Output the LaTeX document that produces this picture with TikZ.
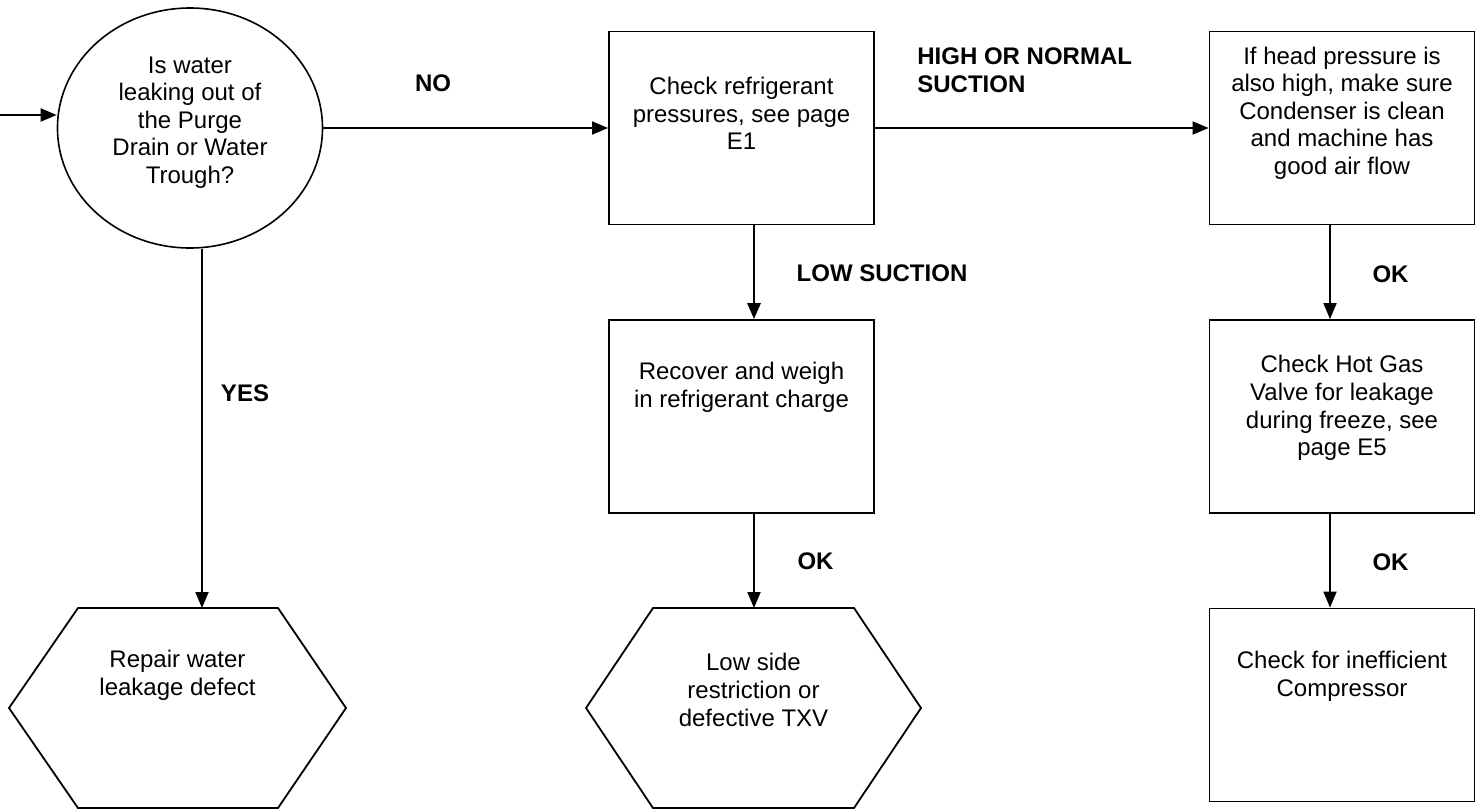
\documentclass[tikz,border=0pt]{standalone}
\usepackage{fontspec}
\setmainfont{Liberation Sans}
\usepackage{tikz}
\usetikzlibrary{arrows.meta,positioning,shapes.geometric}
\tikzset{
  flow/.style={line width=0.9pt,-{Triangle[length=8pt,width=6.5pt]}},
  flowheavy/.style={flow,line width=1.4pt},
  outline/.style={line width=0.9pt,line join=miter},
  stepbox/.style={draw,line width=0.9pt,inner sep=0pt,minimum width=132.5pt,minimum height=96.5pt},
  query/.style={ellipse,draw,line width=0.8pt,inner sep=0pt,minimum width=132.5pt,minimum height=120pt},
  body/.style={align=center,font=\fontsize{12}{13.8}\selectfont,inner sep=0pt},
  tag/.style={align=left,font=\fontsize{12}{13.8}\selectfont\bfseries,inner sep=0pt}
}
\begin{document}
\begin{tikzpicture}[x=0.5pt,y=-0.5pt]
  \useasboundingbox (0,0) rectangle (1482,809);
  \node[query] (leak) at (190,128) {};
  \node[stepbox] (press) at (741.5,128) {};
  \node[stepbox] (recover) at (741.5,416.5) {};
  \node[stepbox] (head) at (1342,128) {};
  \node[stepbox] (hotgas) at (1342,416.5) {};
  \node[stepbox] (comp) at (1342,705) {};
  \draw[outline] (9,708) -- (78,608) -- (278,608) -- (346,708) -- (278,808) -- (78,808) -- cycle;
  \draw[outline] (586,708) -- (653,608) -- (854,608) -- (921,708) -- (854,808) -- (653,808) -- cycle;
  \coordinate (start) at (0,115);
  \coordinate (repairin) at (202,608);
  \coordinate (txvin) at (754,608);
  \node[body] (leaktxt) at (190,122.5) {Is water\\leaking out of\\the Purge\\Drain or Water\\Trough?};
  \node[body] (presstxt) at (741.5,113.5) {Check refrigerant\\pressures, see page\\E1};
  \node[body] (recovertxt) at (741.5,387.5) {Recover and weigh\\in refrigerant charge};
  \node[body] (headtxt) at (1342,113) {If head pressure is\\also high, make sure\\Condenser is clean\\and machine has\\good air flow};
  \node[body] (hotgastxt) at (1342,408) {Check Hot Gas\\Valve for leakage\\during freeze, see\\page E5};
  \node[body] (comptxt) at (1342,676) {Check for inefficient\\Compressor};
  \node[body] (repair) at (177.5,675.5) {Repair water\\leakage defect};
  \node[body] (txv) at (753.5,690) {Low side\\restriction or\\defective TXV};
  \draw[flow] (start) -- (start -| leak.west);
  \draw[flow] (leak.east) -- (press.west);
  \draw[flow] (leak.south -| repairin) -- (repairin);
  \draw[flowheavy] ([xshift=6.25pt]press.south) -- ([xshift=6.25pt]recover.north);
  \draw[flow] ([xshift=6.25pt]recover.south) -- (txvin);
  \draw[flow] (press.east) -- (head.west);
  \draw[flow] ([xshift=-6pt]head.south) -- ([xshift=-6pt]hotgas.north);
  \draw[flow] ([xshift=-6pt]hotgas.south) -- ([xshift=-6pt]comp.north);
  \node[tag] (no) at (433,83) {NO};
  \node[tag,anchor=west] (high) at (917,70) {HIGH OR NORMAL\\SUCTION};
  \node[tag] (low) at (882,273) {LOW SUCTION};
  \node[tag] (yes) at (245,393) {YES};
  \node[tag] (okmid) at (815.5,561) {OK};
  \node[tag] (okup) at (1390.5,274) {OK};
  \node[tag] (okdown) at (1390.5,562) {OK};
\end{tikzpicture}
\end{document}
